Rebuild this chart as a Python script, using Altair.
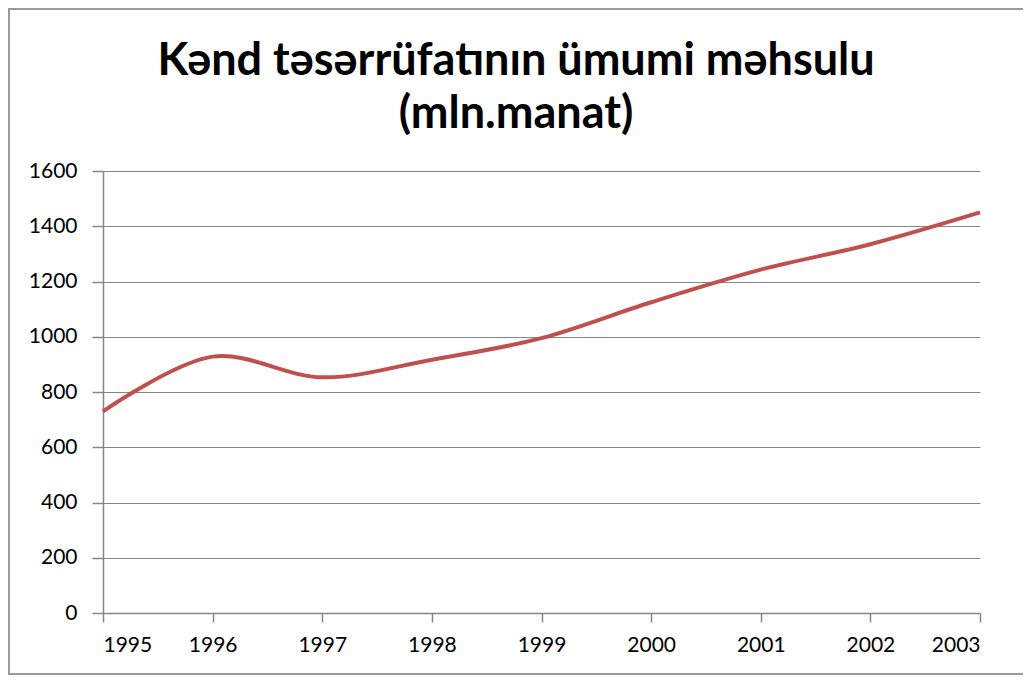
import altair as alt
import pandas as pd

years = [1995, 1996, 1997, 1998, 1999, 2000, 2001, 2002, 2003]
values = [730, 928, 853, 917, 995, 1125, 1243, 1335, 1450]
y_ticks = [0, 200, 400, 600, 800, 1000, 1200, 1400, 1600]
title_lines = ["Kənd təsərrüfatının ümumi məhsulu", "(mln.manat)"]

df = pd.DataFrame({"year": years, "value": values})

GRAY = "#868686"
FONT = "Lato"

line = alt.Chart(df).mark_line(
    color="#C0504D", strokeWidth=4, interpolate="catmull-rom"
).encode(
    x=alt.X("year:Q",
            scale=alt.Scale(domain=[1995, 2003], nice=False, zero=False),
            axis=alt.Axis(values=years, format="d", title=None, grid=False,
                          tickSize=9, labelPadding=12)),
    y=alt.Y("value:Q",
            scale=alt.Scale(domain=[0, 1600], nice=False),
            axis=alt.Axis(values=y_ticks, format="d", title=None, grid=True,
                          tickSize=11, labelPadding=15)),
)

frame_df = pd.DataFrame({"k": [0]})
left_border = alt.Chart(frame_df).mark_rule(color="#9a9a9a", strokeWidth=2).encode(
    x=alt.value(-94), y=alt.value(-163), y2=alt.value(504)
)
top_border = alt.Chart(frame_df).mark_rule(color="#9a9a9a", strokeWidth=2).encode(
    x=alt.value(-95), x2=alt.value(920), y=alt.value(-162)
)
bottom_border = alt.Chart(frame_df).mark_rule(color="#9a9a9a", strokeWidth=2).encode(
    x=alt.value(-95), x2=alt.value(920), y=alt.value(503)
)

title1 = alt.Chart(pd.DataFrame({"t": [title_lines[0]]})).mark_text(
    font=FONT, fontSize=45, fontWeight="bold", color="#000000",
    align="center", baseline="alphabetic"
).encode(text="t:N", x=alt.value(413), y=alt.value(-96))
title2 = alt.Chart(pd.DataFrame({"t": [title_lines[1]]})).mark_text(
    font=FONT, fontSize=45, fontWeight="bold", color="#000000",
    align="center", baseline="alphabetic"
).encode(text="t:N", x=alt.value(413), y=alt.value(-43))

chart = alt.layer(left_border, top_border, bottom_border, line, title1, title2).properties(
    width=877,
    height=442,
    padding={"left": 95, "top": 163, "right": 43, "bottom": 62},
    autosize=alt.AutoSizeParams(type="none"),
).configure_axis(
    domainColor=GRAY, tickColor=GRAY, gridColor=GRAY,
    labelFont=FONT, labelFontSize=21, labelColor="#000000",
    domainWidth=1.5, tickWidth=1.5, gridWidth=1.2,
).configure_view(stroke=None)

chart.save("out.html", embed_options={"renderer": "svg", "actions": False})
